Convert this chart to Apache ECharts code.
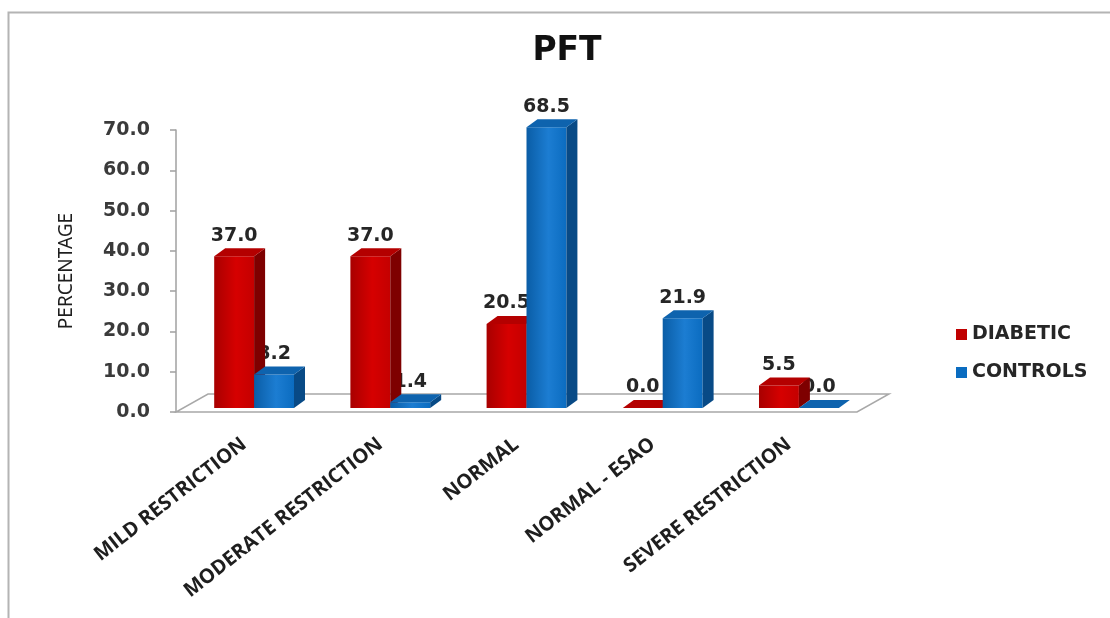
<!DOCTYPE html>
<html>
<head>
<meta charset="utf-8">
<title>PFT</title>
<script src="https://cdn.jsdelivr.net/npm/echarts@6/dist/echarts.min.js"></script>
<style>
  html, body { margin: 0; padding: 0; background: #fff; }
  #chart { width: 1110px; height: 618px; }
</style>
</head>
<body>
<div id="chart"></div>
<script>
// Pulmonary function test outcome, percentage per group
const categories = ['MILD RESTRICTION', 'MODERATE RESTRICTION', 'NORMAL', 'NORMAL - ESAO', 'SEVERE RESTRICTION'];
const diabetic = [37.0, 37.0, 20.5, 0.0, 5.5];
const controls = [8.2, 1.4, 68.5, 21.9, 0.0];
const seriesNames = ['DIABETIC', 'CONTROLS'];
const yMin = 0, yMax = 70, yStep = 10;

// face colours for the pseudo-3D columns: [front gradient stops], side, top
const faces = [
  { front: ['#A80000', '#D60000', '#C40000'], side: '#7E0000', top: '#B40000', legend: '#C00000' },
  { front: ['#0A5DA6', '#1C7DD2', '#0B6CC0'], side: '#084A86', top: '#0E63AE', legend: '#0A6CC0' }
];

const depth = { dx: 11, dy: -8 };        // column depth in screen space
const floorDepth = { dx: 32, dy: -18 };  // floor plane depth
const barShare = 0.293;                  // column width as share of a category

const chart = echarts.init(document.getElementById('chart'), null, { renderer: 'canvas' });

function columnItem(k, values) {
  return function (params, api) {
    const i = api.value(0);
    const v = values[i];
    const top = api.coord([i, v]);
    const base = api.coord([i, 0]);
    const bw = api.size([1, 0])[0] * barShare;
    const x0 = top[0] - bw + k * bw;
    const x1 = x0 + bw;
    const yT = top[1], yB = base[1];
    const f = faces[k];
    const children = [];
    if (yB - yT > 0.5) {
      children.push({
        type: 'rect',
        shape: { x: x0, y: yT, width: bw, height: yB - yT },
        style: {
          fill: new echarts.graphic.LinearGradient(0, 0, 1, 0, [
            { offset: 0, color: f.front[0] },
            { offset: 0.55, color: f.front[1] },
            { offset: 1, color: f.front[2] }
          ])
        }
      });
      children.push({
        type: 'polygon',
        shape: { points: [[x1, yB], [x1 + depth.dx, yB + depth.dy], [x1 + depth.dx, yT + depth.dy], [x1, yT]] },
        style: { fill: f.side }
      });
    }
    children.push({
      type: 'polygon',
      shape: { points: [[x0, yT], [x1, yT], [x1 + depth.dx, yT + depth.dy], [x0 + depth.dx, yT + depth.dy]] },
      style: { fill: f.top }
    });
    return { type: 'group', children: children };
  };
}

function labelItem(k, values) {
  return function (params, api) {
    const i = api.value(0);
    const v = values[i];
    const top = api.coord([i, v]);
    const bw = api.size([1, 0])[0] * barShare;
    const x0 = top[0] - bw + k * bw;
    return {
      type: 'text',
      style: {
        x: x0 + bw / 2,
        y: top[1] - 11,
        text: v.toFixed(1),
        fill: '#262626',
        font: 'bold 19px "DejaVu Sans", Verdana, sans-serif',
        textAlign: 'center',
        textVerticalAlign: 'bottom'
      }
    };
  };
}

function floorItem(params, api) {
  const cs = params.coordSys;
  const xl = cs.x, xr = cs.x + cs.width, y = cs.y + cs.height;
  return {
    type: 'polygon',
    shape: { points: [[xl, y], [xr, y], [xr + floorDepth.dx, y + floorDepth.dy], [xl + floorDepth.dx, y + floorDepth.dy]] },
    style: { fill: '#FFFFFF', stroke: '#A8A8A8', lineWidth: 1.5 }
  };
}

const idx = categories.map((c, i) => [i]);

chart.setOption({
  backgroundColor: '#FFFFFF',
  animation: false,
  title: {
    text: 'PFT',
    left: 562,
    top: 30,
    textAlign: 'center',
    textStyle: { fontFamily: '"DejaVu Sans", Verdana, sans-serif', fontWeight: 'bold', fontSize: 33, color: '#111111' }
  },
  legend: {
    data: seriesNames,
    orient: 'vertical',
    left: 951,
    top: 320,
    icon: 'rect',
    itemWidth: 11,
    itemHeight: 11,
    itemGap: 19,
    textStyle: { fontFamily: '"DejaVu Sans", Verdana, sans-serif', fontWeight: 'bold', fontSize: 19, color: '#262626' }
  },
  graphic: [{
    type: 'rect',
    silent: true,
    z: -10,
    shape: { x: 8.5, y: 12.5, width: 1200, height: 700 },
    style: { fill: 'none', stroke: '#B4B4B4', lineWidth: 2 }
  }],
  grid: [
    { left: 176, top: 130, width: 681, height: 282 },   // value axis, floor, category labels
    { left: 186, top: 121, width: 681, height: 287 }    // columns
  ],
  xAxis: [
    {
      gridIndex: 0, type: 'category', data: categories,
      axisLine: { show: false }, axisTick: { show: false },
      axisLabel: {
        interval: 0, rotate: 38, margin: 30,
        fontFamily: '"Open Sans", sans-serif', fontWeight: 'bold', fontSize: 20, color: '#1E1E1E'
      }
    },
    { gridIndex: 1, type: 'category', data: categories, show: false }
  ],
  yAxis: [
    {
      gridIndex: 0, type: 'value', min: yMin, max: yMax, interval: yStep,
      name: 'PERCENTAGE', nameLocation: 'middle', nameRotate: 90, nameGap: 100,
      nameTextStyle: { fontFamily: '"Liberation Sans Narrow", "Noto Sans", sans-serif', fontSize: 19, color: '#1E1E1E' },
      axisLine: { show: true, lineStyle: { color: '#A0A0A0', width: 1.5 } },
      axisTick: { show: true, length: 6, lineStyle: { color: '#A0A0A0', width: 1.5 } },
      splitLine: { show: false },
      axisLabel: {
        margin: 26, formatter: v => v.toFixed(1),
        fontFamily: '"DejaVu Sans", Verdana, sans-serif', fontWeight: 'bold', fontSize: 19, color: '#3A3A3A'
      }
    },
    { gridIndex: 1, type: 'value', min: yMin, max: yMax, interval: yStep, show: false }
  ],
  series: [
    { type: 'custom', name: 'floor', xAxisIndex: 0, yAxisIndex: 0, z: 1, silent: true,
      data: [[0]], renderItem: floorItem },
    { type: 'custom', name: 'diabeticValues', xAxisIndex: 1, yAxisIndex: 1, z: 2, silent: true,
      data: idx, renderItem: labelItem(0, diabetic) },
    { type: 'custom', name: 'controlValues', xAxisIndex: 1, yAxisIndex: 1, z: 2, silent: true,
      data: idx, renderItem: labelItem(1, controls) },
    { type: 'custom', name: seriesNames[0], xAxisIndex: 1, yAxisIndex: 1, z: 3,
      itemStyle: { color: faces[0].legend },
      data: idx, renderItem: columnItem(0, diabetic) },
    { type: 'custom', name: seriesNames[1], xAxisIndex: 1, yAxisIndex: 1, z: 4,
      itemStyle: { color: faces[1].legend },
      data: idx, renderItem: columnItem(1, controls) }
  ]
});
</script>
</body>
</html>
